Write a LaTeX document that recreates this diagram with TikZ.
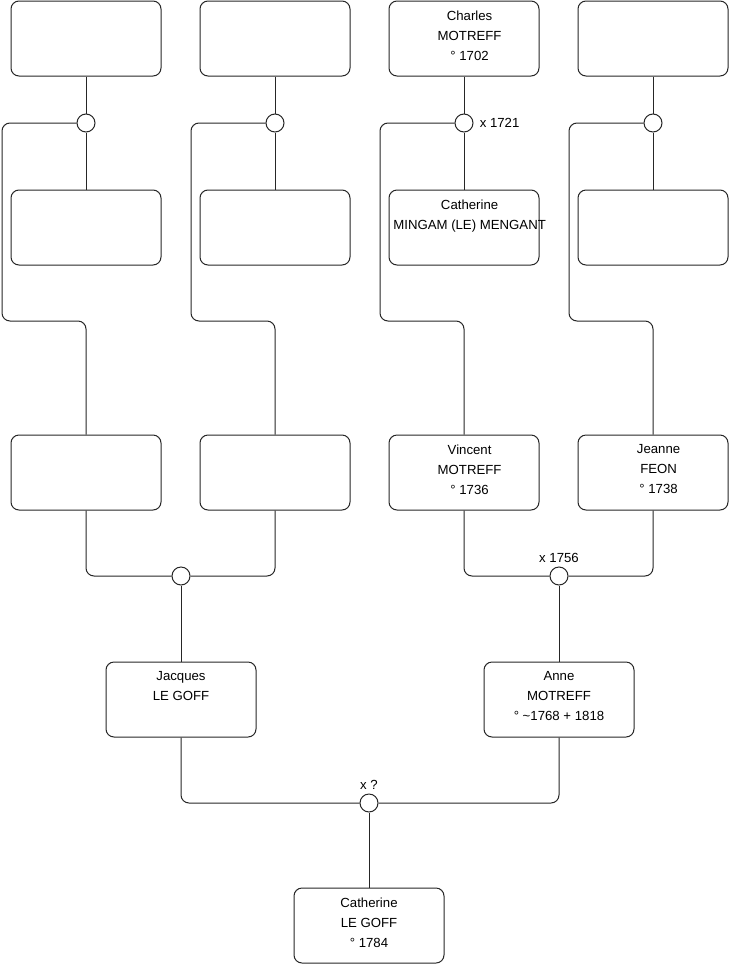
\documentclass[tikz,border=0pt]{standalone}
\usepackage{fontspec}
\setmainfont{Liberation Sans}
\begin{document}
\begin{tikzpicture}[x=0.75pt,y=-0.75pt,
  pbox/.style={draw=black!85,line width=0.75pt,rounded corners=6pt,minimum width=112.5pt,minimum height=56.25pt,inner sep=0pt},
  ptext/.style={anchor=north,align=center,inner sep=0pt,yshift=-7.6pt,font=\fontsize{9.9}{15}\selectfont},
  offtext/.style={ptext,xshift=4.2pt},
  knot/.style={circle,draw=black!85,fill=white,line width=0.75pt,minimum size=13.5pt,inner sep=0pt},
  conn/.style={draw=black!85,line width=0.75pt,rounded corners=6pt},
  lbl/.style={font=\fontsize{9.9}{11}\selectfont,inner sep=1pt}]
\useasboundingbox (0,0) rectangle (740,975);
% row 1
\node[pbox] (a1) at (86,38.5) {};
\node[pbox] (b1) at (275,38.5) {};
\node[pbox] (c1) at (464,38.5) {};
\node[offtext] (c1t) at (c1.north) {Charles\\MOTREFF\\° 1702};
\node[pbox] (d1) at (653,38.5) {};
% row 2
\node[pbox] (a2) at (86,227.5) {};
\node[pbox] (b2) at (275,227.5) {};
\node[pbox] (c2) at (464,227.5) {};
\node[offtext] (c2t) at (c2.north) {Catherine\\MINGAM (LE) MENGANT};
\node[pbox] (d2) at (653,227.5) {};
% row 3
\node[pbox] (a3) at (86,472.5) {};
\node[pbox] (b3) at (275,472.5) {};
\node[pbox] (c3) at (464,472.5) {};
\node[offtext] (c3t) at (c3.north) {Vincent\\MOTREFF\\° 1736};
\node[pbox] (d3) at (653,472.5) {};
\node[offtext] (d3t) at (d3.north) {Jeanne\\FEON\\° 1738};
% row 4
\node[pbox] (e4) at (181,699.5) {};
\node[ptext] (e4t) at (e4.north) {Jacques\\LE GOFF};
\node[pbox] (f4) at (559,699.5) {};
\node[ptext] (f4t) at (f4.north) {Anne\\MOTREFF\\° \textasciitilde1768 + 1818};
% row 5
\node[pbox] (g5) at (369,925.5) {};
\node[ptext] (g5t) at (g5.north) {Catherine\\LE GOFF\\° 1784};
% knots
\node[knot] (oa) at (86,123) {};
\node[knot] (ob) at (275,123) {};
\node[knot] (oc) at (464,123) {};
\node[knot] (od) at (653,123) {};
\node[knot] (oe) at (181,576) {};
\node[knot] (of) at (559,576) {};
\node[knot] (og) at (369,803) {};
% labels
\node[lbl,anchor=west] (lc) at ([xshift=3.5pt]oc.east) {x 1721};
\node[lbl,anchor=south] (lf) at ([yshift=2pt]of.north) {x 1756};
\node[lbl,anchor=south] (lg) at ([yshift=2pt]og.north) {x ?};
% connectors rows 1-3
\foreach \c/\x in {a/2,b/191,c/380,d/569}{
  \draw[conn] (\c1.south) -- (o\c.north);
  \draw[conn] (o\c.south) -- (\c2.north);
  \draw[conn] (o\c.west) -| (\x,321) -| (\c3.north);
}
% row 3 to 4
\draw[conn] (a3.south) |- (oe.west);
\draw[conn] (b3.south) |- (oe.east);
\draw[conn] (oe.south) -- (e4.north);
\draw[conn] (c3.south) |- (of.west);
\draw[conn] (d3.south) |- (of.east);
\draw[conn] (of.south) -- (f4.north);
% row 4 to 5
\draw[conn] (e4.south) |- (og.west);
\draw[conn] (f4.south) |- (og.east);
\draw[conn] (og.south) -- (g5.north);
\end{tikzpicture}
\end{document}
